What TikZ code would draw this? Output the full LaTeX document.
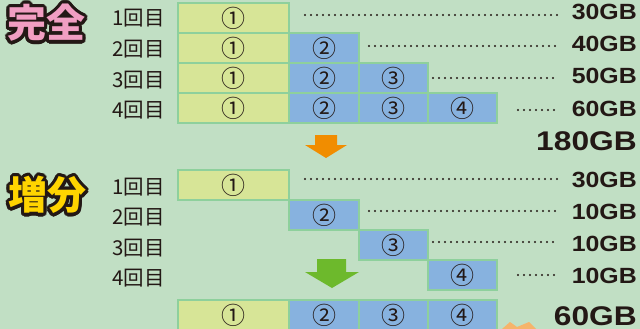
\documentclass[tikz,border=0pt]{standalone}
\usepackage{fontspec}
\newfontfamily\cjk{Noto Sans CJK JP}
\newfontfamily\gbfont{Liberation Sans}
\definecolor{bgc}{HTML}{C1DFC4}
\definecolor{cellline}{HTML}{8ED09C}
\definecolor{ycol}{HTML}{D7E597}
\definecolor{bcol}{HTML}{87B2DF}
\definecolor{txt}{HTML}{231815}
\definecolor{outl}{HTML}{231815}
\definecolor{pinkt}{HTML}{F19EC2}
\definecolor{yellt}{HTML}{FFD400}
\definecolor{arrO}{HTML}{F18D00}
\definecolor{arrG}{HTML}{6DB92C}
\definecolor{burst}{HTML}{F6B46B}
\tikzset{
  cell/.style={draw=cellline, line width=2.4pt, minimum height=30pt, inner sep=0pt,
    font=\cjk\fontsize{24}{24}\selectfont, text=txt},
  ycell/.style={cell, fill=ycol, minimum width=111pt},
  bcell/.style={cell, fill=bcol, minimum width=#1},
  bcell/.default=69pt,
  dotline/.style={txt, line width=2.4pt, line cap=round, dash pattern=on 0pt off 6pt},
  gb/.style={anchor=base east, inner sep=0pt, text=txt, xscale=1.13,
    font=\gbfont\bfseries\fontsize{22}{22}\selectfont},
  gbbig/.style={gb, xscale=1.04, font=\gbfont\bfseries\fontsize{27}{27}\selectfont},
  lbl/.style={anchor=east, inner sep=0pt, text=txt, font=\cjk\fontsize{20.5}{20.5}\selectfont},
  ttl/.style={inner sep=0pt, font=\cjk\bfseries\fontsize{39}{39}\selectfont}
}
\begin{document}
\begin{tikzpicture}[x=1pt,y=-1pt]
\useasboundingbox (0,0) rectangle (640,329);
\fill[bgc] (0,0) rectangle (640,329);
\clip (0,0) rectangle (640,329);

% titles (outline copies, then fill)
\foreach \a [count=\i] in {0,22.5,...,337.5}{
  \node[ttl, text=outl] (t1o\i) at ([shift={(\a:3.4)}]46.5,23) {完全};
  \node[ttl, text=outl] (t2o\i) at ([shift={(\a:3.4)}]47.5,195) {増分};
}
\node[ttl, text=pinkt] (t1) at (46.5,23) {完全};
\node[ttl, text=yellt] (t2) at (47.5,195) {増分};

% ---- full backup ----
\node[lbl] (l1) at (165,18) {1回目};
\node[lbl] (l2) at (165,49) {2回目};
\node[lbl] (l3) at (165,80) {3回目};
\node[lbl] (l4) at (165,110) {4回目};

\node[ycell] (a1) at (233.5,18) {①};
\node[ycell] (b1) at (233.5,48) {①};
\node[bcell=70pt] (b2) at (324,48) {②};
\node[ycell] (c1) at (233.5,78) {①};
\node[bcell=70pt] (c2) at (324,78) {②};
\node[bcell] (c3) at (393.5,78) {③};
\node[ycell] (d1) at (233.5,108) {①};
\node[bcell=70pt] (d2) at (324,108) {②};
\node[bcell] (d3) at (393.5,108) {③};
\node[bcell] (d4) at (462.5,108) {④};

\node[gb] (ga) at (637,20) {30GB};
\node[gb] (gb) at (637,52) {40GB};
\node[gb] (gc) at (637,84) {50GB};
\node[gb] (gd) at (637,116) {60GB};
\node[gbbig] (gt) at (637,150) {180GB};

\coordinate (sa) at (305,15); \coordinate (ea) at (557,15);
\coordinate (sb) at (369,46); \coordinate (eb) at (557,46);
\coordinate (sc) at (433,78); \coordinate (ec) at (557,78);
\coordinate (sd) at (518,110); \coordinate (ed) at (557,110);
\draw[dotline] (sa) -- (ea);
\draw[dotline] (sb) -- (eb);
\draw[dotline] (sc) -- (ec);
\draw[dotline] (sd) -- (ed);

\fill[arrO] (315,135) -- (337,135) -- (337,145) -- (347,145) -- (326,158) -- (305,145) -- (315,145) -- cycle;

% ---- incremental backup ----
\node[lbl] (m1) at (165,187) {1回目};
\node[lbl] (m2) at (165,217) {2回目};
\node[lbl] (m3) at (165,248) {3回目};
\node[lbl] (m4) at (165,278) {4回目};

\node[ycell] (p1) at (233.5,185) {①};
\node[bcell=70pt] (p2) at (324,215) {②};
\node[bcell] (p3) at (393.5,245) {③};
\node[bcell] (p4) at (462.5,275) {④};

\node[ycell] (q1) at (233.5,315) {①};
\node[bcell=70pt] (q2) at (324,315) {②};
\node[bcell] (q3) at (393.5,315) {③};
\node[bcell] (q4) at (462.5,315) {④};

\node[gb] (ha) at (637,187) {30GB};
\node[gb] (hb) at (637,219) {10GB};
\node[gb] (hc) at (637,251) {10GB};
\node[gb] (hd) at (637,283) {10GB};
\node[gbbig] (ht) at (637,325) {60GB};

\coordinate (ua) at (305,179); \coordinate (va) at (557,179);
\coordinate (ub) at (369,211); \coordinate (vb) at (557,211);
\coordinate (uc) at (433,242); \coordinate (vc) at (557,242);
\coordinate (ud) at (518,275); \coordinate (vd) at (557,275);
\draw[dotline] (ua) -- (va);
\draw[dotline] (ub) -- (vb);
\draw[dotline] (uc) -- (vc);
\draw[dotline] (ud) -- (vd);

\fill[arrG] (317,259) -- (346,259) -- (346,272) -- (359,272) -- (332,288) -- (305,272) -- (317,272) -- cycle;

\fill[burst] (502,329) -- (510,322) -- (517,327) -- (529,322) -- (536,329) -- cycle;
\end{tikzpicture}
\end{document}
